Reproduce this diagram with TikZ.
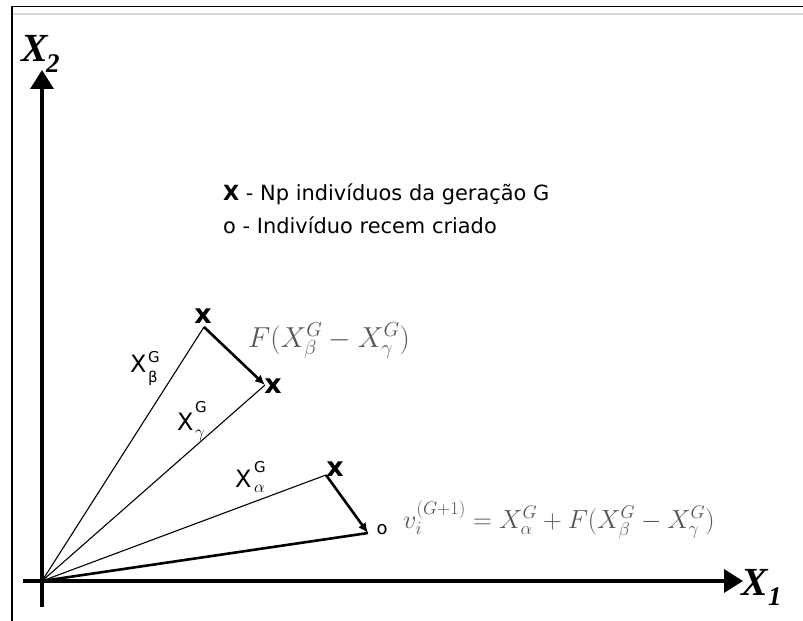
\RequirePackage{fix-cm}
\documentclass[tikz,border=0pt]{standalone}
\usepackage{amsmath}
\usepackage[no-math]{fontspec}
\usetikzlibrary{arrows.meta}
\newfontfamily\dejavu{DejaVu Sans}
\newfontfamily\libserif{Liberation Serif}
\definecolor{mathgray}{RGB}{85,85,85}
\begin{document}
\begin{tikzpicture}[x=1bp,y=-1bp,
  axis/.style={line width=3.5bp,-{Triangle[length=19bp,width=23bp]}},
  ray/.style={line width=1.1bp},
  thickray/.style={line width=2.6bp},
  diffarrow/.style={line width=2.6bp,-{Latex[length=10bp,width=9bp]}},
  marker/.style={inner sep=0pt,font=\dejavu\bfseries\fontsize{27}{27}\selectfont},
  newmarker/.style={inner sep=0pt,font=\dejavu\fontsize{18}{18}\selectfont},
  axlabel/.style={inner sep=0pt,anchor=base west,font=\libserif\bfseries\itshape\fontsize{40}{40}\selectfont},
  axsub/.style={inner sep=0pt,anchor=base west,font=\libserif\bfseries\itshape\fontsize{27}{27}\selectfont},
  veclabel/.style={inner sep=0pt,anchor=base west,font=\dejavu\fontsize{24}{24}\selectfont},
  vecsup/.style={inner sep=0pt,anchor=base west,font=\dejavu\fontsize{15}{15}\selectfont},
  vecsub/.style={inner sep=0pt,anchor=base west,font=\fontsize{17}{17}\selectfont},
  legend/.style={inner sep=0pt,anchor=base west,font=\dejavu\fontsize{21}{21}\selectfont},
  formula/.style={inner sep=0pt,anchor=base west,text=mathgray}
]
\useasboundingbox (0,0) rectangle (803,621);
% frame
\draw[gray!30,line width=1.5bp] (12,14) -- (803,14);
\draw[line width=1.8bp] (12,621) -- (12,6.5) -- (803,6.5);

% coordinates
\coordinate (O) at (42,581);
\coordinate (ybot) at (42,607);
\coordinate (ytop) at (42,70);
\coordinate (xleft) at (23,581);
\coordinate (xright) at (743,581);
\coordinate (B) at (204,327);
\coordinate (Gm) at (265,385);
\coordinate (A) at (326,475);
\coordinate (V) at (368,533);

% axes
\draw[axis] (ybot) -- (ytop);
\draw[axis] (xleft) -- (xright);
\node[axlabel] (x2) at (21,62) {X};
\node[axsub] (x2s) at (46,73) {2};
\node[axlabel] (x1) at (741,595) {X};
\node[axsub] (x1s) at (768,605) {1};

% rays
\draw[ray] (O) -- (B);
\draw[ray] (O) -- (Gm);
\draw[ray] (O) -- (A);
\draw[thickray] (O) -- (V);
\draw[diffarrow] (B) -- (Gm);
\draw[diffarrow] (A) -- (V);

% markers
\node[marker] (mb) at (203,316) {x};
\node[marker] (mg) at (273,386) {x};
\node[marker] (ma) at (335,469) {x};
\node[newmarker] (mv) at (382,530) {o};

% vector labels
\node[veclabel] (lb) at (130,372) {X};
\node[vecsup] (lbs) at (148,362) {G};
\node[vecsub,font=\dejavu\fontsize{15}{15}\selectfont] (lbb) at (148,382) {β};
\node[veclabel] (lg) at (177,430) {X};
\node[vecsup] (lgs) at (195,412) {G};
\node[vecsub] (lgb) at (195,437) {$\gamma$};
\node[veclabel] (la) at (235,487) {X};
\node[vecsup] (las) at (254,472) {G};
\node[vecsub] (lab) at (254,492) {$\alpha$};

% formulas
\node[formula,font=\fontsize{29}{29}\selectfont] (fdiff) at (248,347) {$F(X^G_\beta - X^G_\gamma)$};
\node[formula,font=\fontsize{26.3}{26.3}\selectfont] (fnew) at (403,528) {$v_i^{(G+1)} = X^G_\alpha + F(X^G_\beta - X^G_\gamma)$};

% legend
\node[legend] (leg1) at (223,201) {\textbf{X} - Np indivíduos da geração G};
\node[legend] (leg2) at (223,234) {o - Indivíduo recem criado};
\end{tikzpicture}
\end{document}
